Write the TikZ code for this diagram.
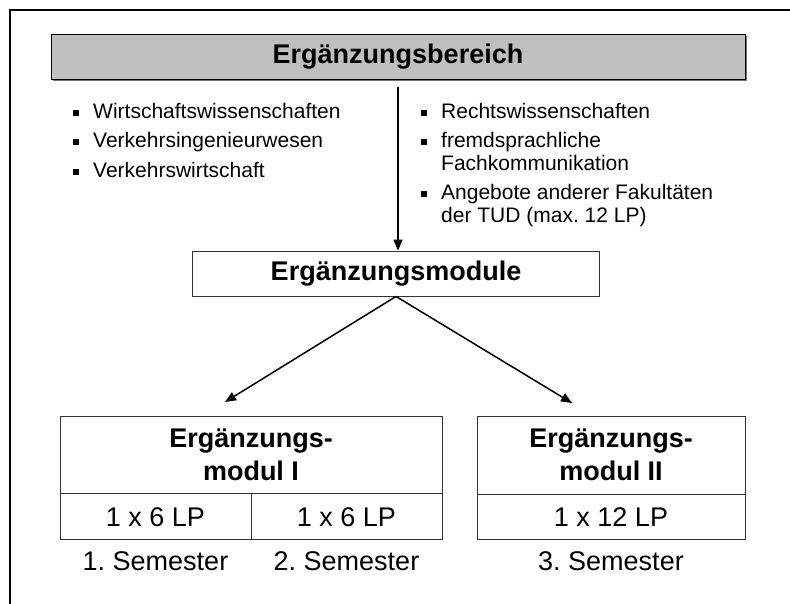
\documentclass[tikz,border=0pt]{standalone}
\usepackage{fontspec}
\setmainfont{Liberation Sans}
\usetikzlibrary{arrows.meta,shadows}

\tikzset{
  kasten/.style={draw=black!80, line width=0.9pt, inner sep=0pt, align=center, font=\fontsize{27}{33}\selectfont},
  titel/.style={kasten, font=\fontsize{27}{33}\selectfont\bfseries},
  grau/.style={titel, draw=black, fill=black!25, drop shadow={shadow xshift=2pt, shadow yshift=-2pt, fill=black!55, opacity=1}},
  pfeil/.style={line width=1.5pt, -{Triangle[length=11pt,width=9pt]}},
  liste/.style={inner sep=0pt, anchor=base west, font=\fontsize{21}{22.5}\selectfont},
  semester/.style={inner sep=0pt, anchor=base, font=\fontsize{27}{33}\selectfont}
}
\newcommand{\blt}{\rule[2.5pt]{6pt}{6pt}}
\frenchspacing

\begin{document}
\begin{tikzpicture}[x=1pt,y=-1pt]
\useasboundingbox (0,0) rectangle (790,603);
\clip (0,0) rectangle (790,603);
% Rahmen
\draw[line width=1.6pt] (800,10) -- (10,10) -- (10,620);

\node[grau, minimum width=694pt, minimum height=45pt] (bereich) at (398,56.5) {Ergänzungsbereich};

\node[liste] (links) at (73,118) {\begin{tabular}[t]{@{}l@{\hspace{14pt}}l@{}}
\blt & Wirtschaftswissenschaften\\[7pt]
\blt & Verkehrsingenieurwesen\\[7pt]
\blt & Verkehrswirtschaft
\end{tabular}};
\node[liste] (rechts) at (421,118) {\begin{tabular}[t]{@{}l@{\hspace{14pt}}l@{}}
\blt & Rechtswissenschaften\\[7pt]
\blt & fremdsprachliche\\
     & Fachkommunikation\\[7pt]
\blt & Angebote anderer Fakultäten\\
     & der TUD (max. 12 LP)
\end{tabular}};

\node[titel, minimum width=407pt, minimum height=45pt] (module) at (396,273.5) {Ergänzungsmodule};
\draw[pfeil, shorten <=8pt] (bereich.south) -- (bereich.south |- module.north);

% Module
\node[titel, minimum width=382pt, minimum height=77pt] (modA) at (251,454.5) {Ergänzungs-\\modul I};
\node[kasten, minimum width=191pt, minimum height=46pt, anchor=north west] (lpA) at (modA.south west) {1 x 6 LP};
\node[kasten, minimum width=191pt, minimum height=46pt, anchor=north east] (lpB) at (modA.south east) {1 x 6 LP};
\node[titel, minimum width=268pt, minimum height=78pt] (modB) at (611,455) {Ergänzungs-\\modul II};
\node[kasten, minimum width=268pt, minimum height=45pt, anchor=north] (lpC) at (modB.south) {1 x 12 LP};

\path (lpA.south) ++(0,30) node[semester] (semA) {1. Semester};
\path (lpB.south) ++(0,30) node[semester] (semB) {2. Semester};
\path (lpC.south) ++(0,30) node[semester] (semC) {3. Semester};

\coordinate (spitzeA) at (225,402);
\coordinate (spitzeB) at (572,403);
\draw[pfeil] (module.south) -- (spitzeA);
\draw[pfeil] (module.south) -- (spitzeB);
\end{tikzpicture}
\end{document}
